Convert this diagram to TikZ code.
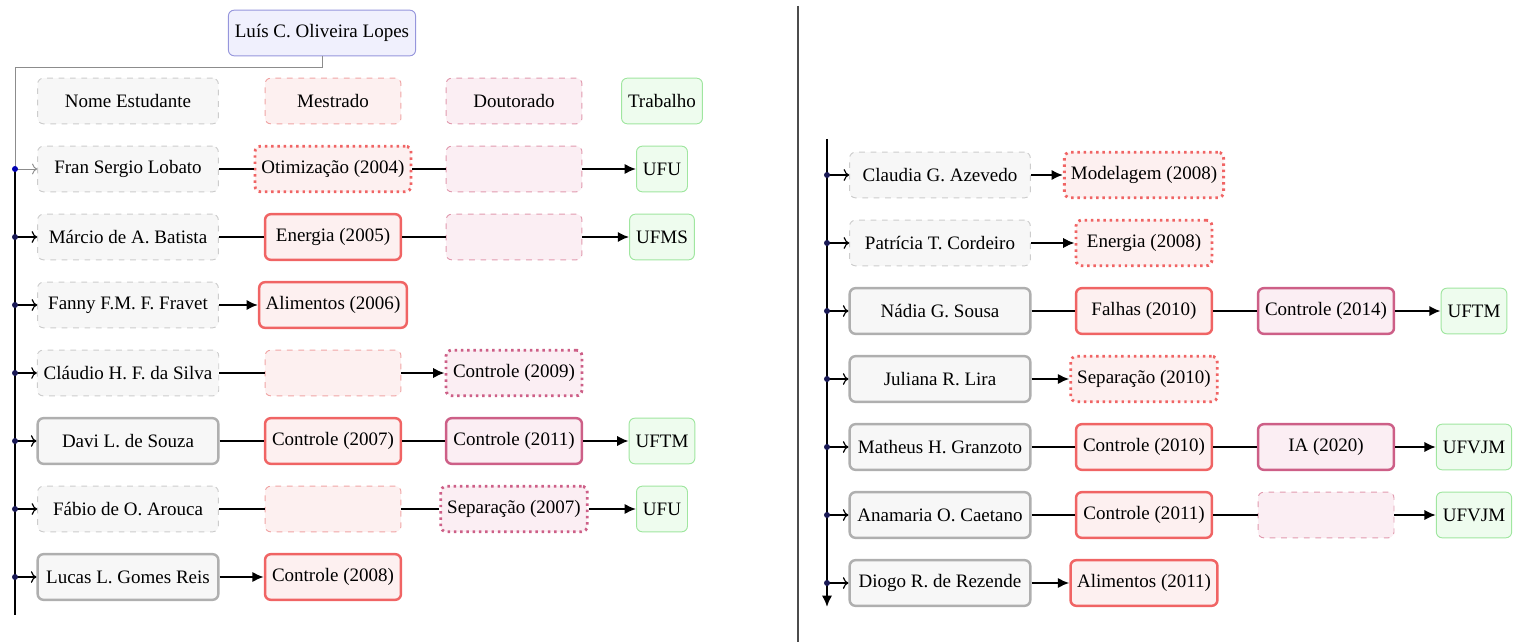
\documentclass[tikz,border=0pt]{standalone}
\usepackage{fontspec}
\setmainfont{Liberation Serif}
\usetikzlibrary{arrows.meta}
\definecolor{raizfundo}{RGB}{240,240,253}
\definecolor{raizborda}{RGB}{150,150,220}
\definecolor{nomefundo}{RGB}{247,247,247}
\definecolor{nomeborda}{RGB}{175,175,175}
\definecolor{nomeleve}{RGB}{205,205,205}
\definecolor{mestfundo}{RGB}{253,240,240}
\definecolor{mestborda}{RGB}{240,100,100}
\definecolor{mestleve}{RGB}{240,165,165}
\definecolor{doutfundo}{RGB}{251,238,243}
\definecolor{doutborda}{RGB}{205,95,135}
\definecolor{doutleve}{RGB}{225,155,175}
\definecolor{trabfundo}{RGB}{238,252,238}
\definecolor{trabborda}{RGB}{160,230,160}
\definecolor{pontocor}{RGB}{25,25,85}
\tikzset{
  caixa/.style={rounded corners=3pt,minimum height=24pt,inner xsep=3.4pt},
  raiz/.style={caixa,draw=raizborda,fill=raizfundo,line width=0.5pt},
  nome/.style={caixa,minimum width=95pt,fill=nomefundo,draw=nomeborda,line width=1.3pt},
  nomevazio/.style={caixa,minimum width=95pt,fill=nomefundo,draw=nomeleve,dashed,line width=0.5pt},
  mest/.style={caixa,minimum width=71.5pt,fill=mestfundo,draw=mestborda,line width=1.3pt},
  mestpont/.style={mest,dotted,line width=1.5pt},
  mestvazio/.style={caixa,minimum width=71.5pt,fill=mestfundo,draw=mestleve,dashed,line width=0.5pt},
  dout/.style={caixa,minimum width=71.5pt,fill=doutfundo,draw=doutborda,line width=1.3pt},
  doutpont/.style={dout,dotted,line width=1.5pt},
  doutvazio/.style={caixa,minimum width=71.5pt,fill=doutfundo,draw=doutleve,dashed,line width=0.5pt},
  trab/.style={caixa,fill=trabfundo,draw=trabborda,line width=0.5pt},
  liga/.style={line width=1.5pt},
  seta/.style={liga,-{Latex[length=6pt,width=5.5pt]}},
  ramo/.style={line width=0.6pt,->},
  ponto/.style={fill=pontocor},
  tronco/.style={line width=1.5pt},
  divisor/.style={draw=black!70,line width=0.8pt}
}
\begin{document}
\begin{tikzpicture}[x=0.526pt,y=-0.526pt]
\useasboundingbox (0,0) rectangle (1518,642);
% orientador e cabecalho
\node[raiz] (lopes) at (322,33) {Luís C. Oliveira Lopes};
\node[nomevazio] (hnome) at (128,101) {Nome Estudante};
\node[mestvazio] (hmest) at (333,101) {Mestrado};
\node[doutvazio] (hdout) at (514,101) {Doutorado};
\node[trab] (htrab) at (662,101) {Trabalho};
% coluna da esquerda
\node[nomevazio] (a1) at (128,169) {Fran Sergio Lobato};
\node[mestpont] (a1m) at (hmest |- a1) {Otimização (2004)};
\node[doutvazio] (a1d) at (hdout |- a1) {};
\node[trab] (a1t) at (htrab |- a1) {UFU};
\node[nomevazio] (a2) at (128,237) {Márcio de A. Batista};
\node[mest] (a2m) at (hmest |- a2) {Energia (2005)};
\node[doutvazio] (a2d) at (hdout |- a2) {};
\node[trab] (a2t) at (htrab |- a2) {UFMS};
\node[nomevazio] (a3) at (128,305) {Fanny F.M. F. Fravet};
\node[mest] (a3m) at (hmest |- a3) {Alimentos (2006)};
\node[nomevazio] (a4) at (128,373) {Cláudio H. F. da Silva};
\node[mestvazio] (a4m) at (hmest |- a4) {};
\node[doutpont] (a4d) at (hdout |- a4) {Controle (2009)};
\node[nome] (a5) at (128,441) {Davi L. de Souza};
\node[mest] (a5m) at (hmest |- a5) {Controle (2007)};
\node[dout] (a5d) at (hdout |- a5) {Controle (2011)};
\node[trab] (a5t) at (htrab |- a5) {UFTM};
\node[nomevazio] (a6) at (128,509) {Fábio de O. Arouca};
\node[mestvazio] (a6m) at (hmest |- a6) {};
\node[doutpont] (a6d) at (hdout |- a6) {Separação (2007)};
\node[trab] (a6t) at (htrab |- a6) {UFU};
\node[nome] (a7) at (128,577) {Lucas L. Gomes Reis};
\node[mest] (a7m) at (hmest |- a7) {Controle (2008)};
\draw[liga] (a1) -- (a1m) -- (a1d);
\draw[seta] (a1d) -- (a1t);
\draw[liga] (a2) -- (a2m) -- (a2d);
\draw[seta] (a2d) -- (a2t);
\draw[seta] (a3) -- (a3m);
\draw[liga] (a4) -- (a4m);
\draw[seta] (a4m) -- (a4d);
\draw[liga] (a5) -- (a5m) -- (a5d);
\draw[seta] (a5d) -- (a5t);
\draw[liga] (a6) -- (a6m) -- (a6d);
\draw[seta] (a6d) -- (a6t);
\draw[seta] (a7) -- (a7m);
% tronco da esquerda
\coordinate (canto) at (15,67);
\coordinate (fimA) at (15,615);
\draw[ramo,draw=black!45,line width=0.5pt] (lopes.south) |- (canto) |- (a1.west);
\draw[tronco] (15,0 |- a1) -- (fimA);
\fill[blue!70!black] (15,0 |- a1) circle (3);
\foreach \i in {2,...,7}{
  \draw[ramo] (15,0 |- a\i) -- (a\i);
  \fill[ponto] (15,0 |- a\i) circle (3);
}
% divisoria
\coordinate (divtopo) at (798,6);
\coordinate (divbase) at (798,642);
\draw[divisor] (divtopo) -- (divbase);
% coluna da direita
\node[nomevazio] (b1) at (940,175) {Claudia G. Azevedo};
\node[mestpont] (b1m) at (1144,0 |- b1) {Modelagem (2008)};
\node[nomevazio] (b2) at (940,243) {Patrícia T. Cordeiro};
\node[mestpont] (b2m) at (1144,0 |- b2) {Energia (2008)};
\node[nome] (b3) at (940,311) {Nádia G. Sousa};
\node[mest] (b3m) at (1144,0 |- b3) {Falhas (2010)};
\node[dout] (b3d) at (1326,0 |- b3) {Controle (2014)};
\node[trab] (b3t) at (1474,0 |- b3) {UFTM};
\node[nome] (b4) at (940,379) {Juliana R. Lira};
\node[mestpont] (b4m) at (1144,0 |- b4) {Separação (2010)};
\node[nome] (b5) at (940,447) {Matheus H. Granzoto};
\node[mest] (b5m) at (1144,0 |- b5) {Controle (2010)};
\node[dout] (b5d) at (1326,0 |- b5) {IA (2020)};
\node[trab] (b5t) at (1474,0 |- b5) {UFVJM};
\node[nome] (b6) at (940,515) {Anamaria O. Caetano};
\node[mest] (b6m) at (1144,0 |- b6) {Controle (2011)};
\node[doutvazio] (b6d) at (1326,0 |- b6) {};
\node[trab] (b6t) at (1474,0 |- b6) {UFVJM};
\node[nome] (b7) at (940,583) {Diogo R. de Rezende};
\node[mest] (b7m) at (1144,0 |- b7) {Alimentos (2011)};
\draw[seta] (b1) -- (b1m);
\draw[seta] (b2) -- (b2m);
\draw[liga] (b3) -- (b3m) -- (b3d);
\draw[seta] (b3d) -- (b3t);
\draw[seta] (b4) -- (b4m);
\draw[liga] (b5) -- (b5m) -- (b5d);
\draw[seta] (b5d) -- (b5t);
\draw[liga] (b6) -- (b6m) -- (b6d);
\draw[seta] (b6d) -- (b6t);
\draw[seta] (b7) -- (b7m);
% tronco da direita
\coordinate (topoB) at (827,139);
\coordinate (fimB) at (827,607);
\draw[tronco,-{Latex[length=6pt,width=5.5pt]}] (topoB) -- (fimB);
\foreach \i in {1,...,7}{
  \draw[ramo] (827,0 |- b\i) -- (b\i);
  \fill[ponto] (827,0 |- b\i) circle (3);
}
\end{tikzpicture}
\end{document}
